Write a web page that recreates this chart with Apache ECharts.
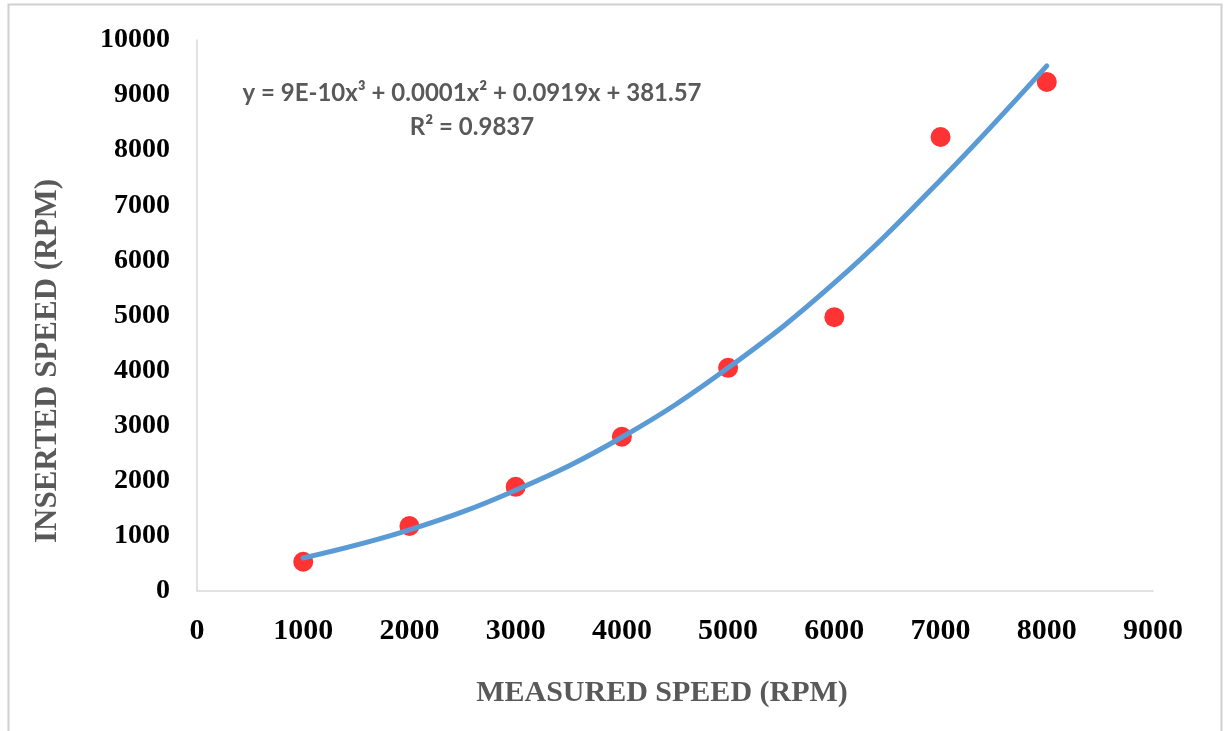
<!DOCTYPE html>
<html>
<head>
<meta charset="utf-8">
<script src="https://cdn.jsdelivr.net/npm/echarts@6/dist/echarts.min.js"></script>
<style>
html,body{margin:0;padding:0;background:#fff;}
#chart{width:1224px;height:731px;}
</style>
</head>
<body>
<div id="chart"></div>
<script>
// Measured data (x: measured speed, y: inserted speed)
var measuredSpeed = [1000, 2000, 3000, 4000, 5000, 6000, 7000, 8000];
var insertedSpeed = [530, 1180, 1890, 2800, 4050, 4970, 8240, 9240];
// Polynomial trendline
var trendX = [1000, 2000, 3000, 4000, 5000, 6000, 7000, 8000];
var trendY = [600, 1110, 1830, 2790, 4050, 5590, 7460, 9530];
var equationText = 'y = 9E-10x³ + 0.0001x² + 0.0919x + 381.57';
var r2Text = 'R² = 0.9837';
var xTitle = 'MEASURED SPEED (RPM)';
var yTitle = 'INSERTED SPEED (RPM)';

var chart = echarts.init(document.getElementById('chart'));
var scatterData = measuredSpeed.map(function (x, i) { return [x, insertedSpeed[i]]; });
var trendData = trendX.map(function (x, i) { return [x, trendY[i]]; });

var serif = '"Liberation Serif", "Times New Roman", serif';
function plain(v) { return String(v); }

chart.setOption({
  backgroundColor: '#ffffff',
  animation: false,
  grid: { left: 197, right: 71, top: 40, bottom: 140, containLabel: false },
  xAxis: {
    type: 'value', min: 0, max: 9000, interval: 1000,
    axisLine: { show: true, lineStyle: { color: '#d9d9d9', width: 1.5 } },
    axisTick: { show: false },
    splitLine: { show: false },
    axisLabel: { color: '#000', fontFamily: serif, fontWeight: 'bold', fontSize: 30, margin: 25, formatter: plain }
  },
  yAxis: {
    type: 'value', min: 0, max: 10000, interval: 1000,
    axisLine: { show: true, lineStyle: { color: '#d9d9d9', width: 1.5 } },
    axisTick: { show: false },
    splitLine: { show: false },
    axisLabel: { color: '#000', fontFamily: serif, fontWeight: 'bold', fontSize: 28, margin: 27, formatter: plain }
  },
  graphic: [
    { type: 'rect', left: 6, top: 2, shape: { width: 1213, height: 740 },
      style: { fill: 'none', stroke: '#d0d0d0', lineWidth: 2 }, silent: true, z: -1 },
    { type: 'text', x: 472, y: 93, style: { text: equationText, fill: '#595959',
      font: 'bold 24px Lato, "Liberation Sans", sans-serif', textAlign: 'center', textVerticalAlign: 'middle' } },
    { type: 'text', x: 472, y: 127, style: { text: r2Text, fill: '#595959',
      font: 'bold 24px Lato, "Liberation Sans", sans-serif', textAlign: 'center', textVerticalAlign: 'middle' } },
    { type: 'text', x: 662, y: 693, style: { text: xTitle, fill: '#595959',
      font: 'bold 30px "Liberation Serif", serif', textAlign: 'center', textVerticalAlign: 'middle' } },
    { type: 'text', x: 48, y: 361, rotation: Math.PI / 2, style: { text: yTitle, fill: '#595959',
      font: 'bold 31px "Liberation Serif", serif', textAlign: 'center', textVerticalAlign: 'middle' } }
  ],
  series: [
    {
      type: 'line', data: trendData, smooth: 0.4, showSymbol: false, symbol: 'none',
      lineStyle: { color: '#5b9bd5', width: 5, cap: 'round' }, z: 3
    },
    {
      type: 'scatter', data: scatterData, symbol: 'circle', symbolSize: 20,
      itemStyle: { color: '#ff0000' }, z: 2
    }
  ]
});
</script>
</body>
</html>
